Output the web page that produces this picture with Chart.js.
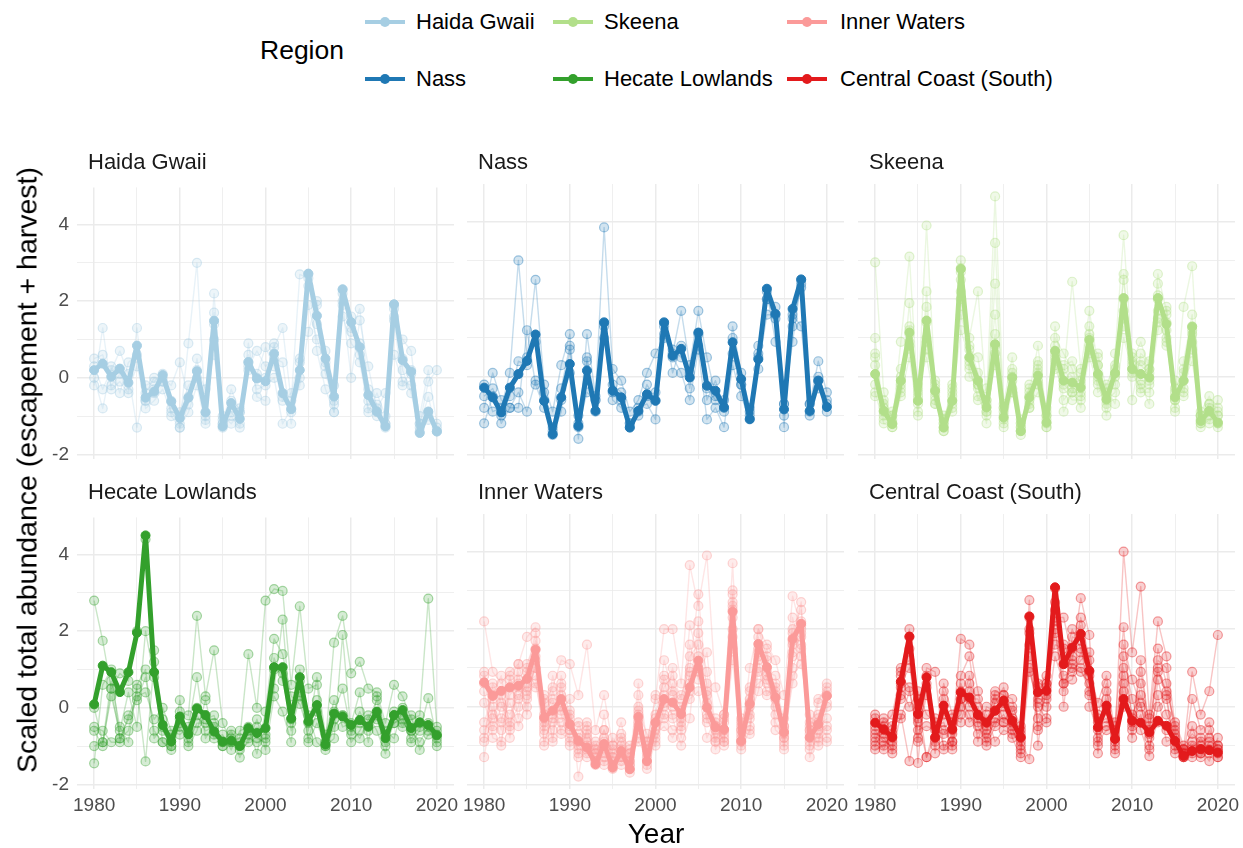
<!DOCTYPE html>
<html>
<head>
<meta charset="utf-8">
<script src="https://cdn.jsdelivr.net/npm/chart.js@4/dist/chart.umd.min.js"></script>
<style>
  body { margin:0; background:#fff; width:1243px; height:848px; position:relative; overflow:hidden;
         font-family:"Liberation Sans", Arial, sans-serif; }
  canvas { position:absolute; }
  .txt { position:absolute; white-space:nowrap; }
  .strip { font-size:22px; color:#1a1a1a; }
  .legtxt { font-size:22px; color:#000; }
  .key { position:absolute; width:40px; height:20px; }
  .key .ln { position:absolute; left:0; top:8.25px; width:40px; height:3.5px; }
  .key .dot { position:absolute; left:15px; top:5px; width:10px; height:10px; border-radius:50%; }
</style>
</head>
<body>
<script>
// Years on the x axis
const years = [1980,1981,1982,1983,1984,1985,1986,1987,1988,1989,
               1990,1991,1992,1993,1994,1995,1996,1997,1998,1999,
               2000,2001,2002,2003,2004,2005,2006,2007,2008,2009,
               2010,2011,2012,2013,2014,2015,2016,2017,2018,2019,2020];

const regionNames  = ["Haida Gwaii","Nass","Skeena","Hecate Lowlands","Inner Waters","Central Coast (South)"];
const regionColors = ["#a6cee3","#1f78b4","#b2df8a","#33a02c","#fb9a99","#e31a1c"];

const xTickValues = [1980,1985,1990,1995,2000,2005,2010,2015,2020];
const yTickValues = [-2,-1,0,1,2,3,4];

// Regional mean of scaled abundance
const haidaMean = [0.20,0.37,0.03,0.24,-0.13,0.84,-0.52,-0.36,0.07,-0.62,
  -1.05,-0.52,0.17,-0.90,1.49,-1.27,-0.66,-1.07,0.41,-0.02,
  -0.09,0.63,-0.40,-0.82,0.20,2.72,1.62,0.50,-0.49,2.31,
  1.45,0.80,-0.45,-0.88,-1.27,1.92,0.46,0.16,-1.44,-0.88,-1.40];
const nassMean = [-0.28,-0.53,-0.92,-0.28,0.07,0.41,1.09,-0.62,-1.48,-0.53,
  0.33,-1.27,0.16,-0.88,1.40,-0.36,-0.53,-1.31,-0.88,-0.45,
  -0.62,1.40,0.54,0.72,-0.02,1.14,-0.23,-0.36,-0.79,0.89,
  -0.06,-1.09,0.45,2.27,1.62,-0.84,1.75,2.51,-0.88,-0.10,-0.78];
const skeenaMean = [0.07,-0.88,-1.22,-0.10,1.14,-0.62,1.45,-0.36,-1.31,-0.62,
  2.78,0.50,-0.10,-0.79,0.84,-1.05,-0.02,-1.40,-0.53,0.03,
  -1.18,0.67,-0.10,-0.15,-0.28,0.95,0.07,-0.58,0.09,2.03,
  0.20,0.07,-0.02,2.03,1.36,-0.53,-0.10,1.29,-1.14,-0.88,-1.18];
const hecateMean = [0.09,1.10,0.93,0.41,0.93,1.96,4.50,0.93,-0.45,-0.88,
  -0.23,-0.69,-0.02,-0.19,-0.62,-0.88,-0.86,-1.00,-0.53,-0.66,
  -0.53,1.06,1.06,-0.28,0.80,-0.36,0.07,-0.96,-0.15,-0.23,
  -0.45,-0.32,-0.49,-0.10,-0.79,-0.19,-0.06,-0.53,-0.38,-0.45,-0.72];
const innerMean = [0.63,0.28,0.41,0.50,0.54,0.72,1.47,-0.28,-0.10,0.20,
  -0.45,-0.88,-1.05,-1.48,-0.96,-1.57,-1.14,-1.61,-0.26,-1.40,
  -0.41,0.20,0.11,-0.19,0.50,1.19,-0.02,-0.53,-0.58,2.45,
  -0.88,0.07,1.62,1.02,0.24,-0.66,1.75,2.14,-0.79,-0.45,0.28];
const centralMean = [-0.41,-0.58,-0.78,0.65,1.81,-0.19,0.76,-0.79,0.03,-0.58,
  0.37,0.24,-0.21,-0.41,-0.10,0.16,-0.36,-0.79,2.33,0.37,
  0.41,3.08,1.10,1.53,1.88,0.93,-0.53,0.03,-0.83,0.20,
  -0.36,-0.41,-0.66,-0.36,-0.49,-0.88,-1.27,-1.14,-1.09,-1.12,-1.18];

// Individual populations within each region
const haidaPops = [
  [-0.2,1.3,-0.3,-0.1,-0.4,1.3,-0.8,-0.6,-0.3,-0.9, -1.2,0.9,3.0,-1.0,2.2,-1.3,-1.0,-1.3,0.9,-0.5,
   -0.6,0.8,1.3,-0.6,2.7,2.6,0.7,-0.3,-0.9,2.2, 1.2,1.8,-0.3,-0.7,-1.2,1.6,1.0,0.7,-1.2,-0.5,-1.4],
  [0.3,-0.3,0.2,0.7,0.1,-1.3,-0.2,-0.1,0.1,-1.0, -1.3,-0.9,-0.2,-1.2,1.0,-1.2,-0.6,-0.8,0.2,0.1,
   0.8,0.3,-0.6,-0.4,0.5,2.7,1.4,0.1,-0.6,2.0, 1.6,0.4,-0.8,-1.0,-1.2,1.9,0.2,-0.4,-1.4,-1.1,-1.3],
  [0.0,-0.8,0.3,-0.4,0.4,0.6,-0.4,0.0,-0.1,-0.6, -1.3,-0.7,0.5,-0.9,1.4,-1.2,-0.3,-0.9,0.4,-0.3,
   -0.2,0.0,-1.2,-0.8,-0.2,1.2,2.0,0.7,-0.2,1.6, 0.9,0.6,-0.9,-0.4,-1.0,1.5,-0.2,0.2,-1.0,0.2,-1.2],
  [null,null,null,null,null,null,-0.6,-0.4,0.0,-0.2, 0.4,-0.5,0.2,-0.3,0.6,-1.0,-1.2,-0.9,0.3,0.7,
   0.3,0.5,0.4,-1.2,0.0,1.9,1.0,0.4,-0.9,1.9, 0.0,1.5,0.3,-0.8,-0.4,0.6,-0.1,-0.2,-1.2,-0.1,0.2],
  [0.5,0.6,-0.2,0.1,-0.3,0.3,-0.6,-0.3,-0.1,-0.8, -0.9,-0.2,0.0,-1.1,1.7,-1.1,-0.9,-1.2,0.6,0.0,
   0.0,0.9,-0.5,-0.9,0.4,2.4,1.9,0.3,-0.7,2.3, 1.3,0.9,-0.6,-0.9,-1.3,1.8,0.5,0.1,-1.3,-0.9,-1.4]
];
const nassPops = [
  [-0.2,-0.9,-0.8,0.1,3.0,0.5,2.5,-0.2,-0.9,0.3, 1.1,-1.6,1.1,-0.5,3.85,0.2,-0.1,-0.9,-0.6,0.1,
   0.6,1.0,0.6,1.7,0.3,1.7,0.5,-0.5,-0.9,1.3, 0.1,-0.8,0.6,2.0,1.5,-1.0,1.3,2.4,-0.7,0.4,-0.4],
  [-0.8,0.1,-0.6,-0.8,-0.8,1.2,-0.2,-0.8,-1.3,-0.3, 0.8,-1.2,0.5,-0.6,1.4,-0.2,-0.4,-1.2,-0.9,-0.2,
   -0.6,1.4,0.1,0.8,-0.3,1.1,-0.6,-0.1,-0.8,1.0, -0.2,-1.0,0.2,1.6,1.6,-1.3,1.6,1.3,-0.9,-0.1,-0.6],
  [-1.2,-0.5,-1.2,-0.8,-0.4,-0.9,-0.1,-0.6,-1.5,-0.9, 0.7,-1.3,-0.4,-0.6,1.0,-0.6,-0.8,-1.3,-0.8,-0.7,
   -1.1,1.1,0.5,0.1,-0.6,0.7,-1.1,-0.8,-1.3,0.3, -0.5,-1.1,0.8,2.2,0.9,-0.7,0.9,2.5,-1.0,0.0,-0.9],
  [-0.5,-0.3,-1.0,-0.5,0.4,0.3,0.9,-0.4,-1.4,-0.6, 0.1,-1.0,0.4,-0.9,1.3,-0.4,-0.6,-1.2,-1.0,-0.5,
   -0.4,1.3,0.7,0.5,0.1,0.8,-0.3,-0.6,-0.6,0.6, -0.2,-0.9,0.5,2.0,1.8,-0.7,1.5,2.3,-0.7,-0.3,-0.7]
];
const skeenaPops = [
  [2.95,-0.4,-1.2,0.9,3.1,-0.6,3.9,-0.2,-1.4,-0.3, 2.8,1.0,2.2,-0.6,4.65,-0.8,0.1,-1.2,-0.7,0.3,
   -1.2,1.3,0.0,2.45,0.2,1.7,0.3,-0.4,0.6,3.65, 0.4,0.9,0.2,2.65,1.7,-0.5,1.8,2.85,-1.0,-0.7,-1.2],
  [1.0,-1.1,-0.9,-0.4,1.9,-0.9,2.2,-0.7,-1.1,-0.9, 2.7,0.4,-0.3,-1.2,3.45,-1.3,-0.4,-1.5,-0.4,0.8,
   -1.0,0.8,-0.6,-0.3,-0.8,1.1,0.0,-1.0,0.1,2.65, 0.1,-0.3,-0.2,2.0,1.4,-0.9,0.2,1.3,-1.3,-1.1,-0.9],
  [0.5,-0.8,-1.0,0.2,1.1,-0.5,1.4,-0.5,-1.2,-0.2, 1.6,0.7,0.5,-0.9,2.4,-0.7,0.5,-1.1,-0.8,-0.4,
   -1.3,0.4,0.3,0.4,-0.2,0.6,0.5,-0.6,-0.4,2.0, -0.6,0.6,0.4,1.7,1.2,-0.1,-0.4,1.2,-0.9,-0.5,-1.0],
  [-0.4,-1.2,-1.3,-0.2,0.8,-0.2,0.7,-0.1,-1.4,-0.8, 2.0,0.3,-0.6,-0.3,1.6,-1.1,-0.3,-1.4,-0.3,-0.1,
   -1.1,0.2,-0.3,-0.6,-0.6,0.5,-0.2,-0.8,0.0,1.5, 0.3,-0.4,-0.4,1.2,1.8,-0.6,-0.3,0.7,-1.2,-0.8,-1.3],
  [-0.2,-0.7,-1.3,-0.5,0.5,-1.0,1.0,-0.6,-1.3,-0.5, 2.5,0.0,-0.2,-0.9,0.3,-0.9,-0.1,-1.3,-0.6,0.4,
   -0.9,0.6,-0.9,-0.4,-0.4,0.8,0.6,-0.3,-0.7,1.0, 0.2,-0.2,-0.7,2.1,0.8,-0.6,-0.1,0.4,-1.0,-1.2,-0.6],
  [0.3,-0.9,-1.1,-0.1,1.2,-0.7,0.9,-0.4,-1.0,-0.6, 1.2,0.5,-0.2,-0.6,0.8,-1.0,0.2,-1.4,-0.5,0.2,
   -1.0,0.5,0.2,0.0,-0.1,1.3,-0.4,-0.2,0.3,2.5, 0.5,0.3,0.1,1.5,0.9,-0.3,0.1,1.1,-1.1,-0.9,-1.0],
  [0.6,-1.0,-1.2,-0.3,0.9,-0.4,1.8,-0.3,-1.2,-0.7, 3.0,0.8,0.1,-0.7,1.1,-1.2,0.0,-1.3,-0.2,-0.2,
   -1.3,1.0,0.6,0.2,-0.5,1.0,0.3,-0.5,-0.2,1.7, 0.0,0.4,0.2,2.4,1.0,-0.8,0.4,1.6,-1.2,-1.0,-1.2],
  [-0.5,-0.6,-1.0,0.0,1.3,-0.3,0.5,-0.7,-1.1,-0.4, 2.2,0.2,-0.5,-1.0,0.6,-0.8,-0.4,-1.2,-0.8,0.1,
   -0.8,0.3,-0.2,-0.4,0.1,0.7,-0.1,-0.7,0.2,1.3, 0.6,-0.1,-0.1,1.4,1.6,-0.4,-0.5,0.9,-1.0,-0.7,-0.8]
];
const hecatePops = [
  [2.8,1.75,0.5,0.9,0.7,2.0,4.4,1.5,-0.3,-0.8, -0.1,-0.2,2.4,0.3,1.5,-0.4,-0.9,-0.8,1.4,0.0,
   2.8,3.1,3.05,0.6,2.65,0.5,0.6,-0.9,1.7,2.4, 0.9,1.2,0.5,0.4,-0.4,0.6,0.3,-0.3,-0.2,2.85,-0.5],
  [-1.45,0.6,1.0,-0.8,-0.6,0.5,-1.4,1.2,-0.6,-1.0, -0.4,-0.8,0.0,-0.3,-0.2,-1.0,-0.7,-1.3,-0.8,-0.9,
   -0.8,0.5,2.3,-0.4,0.7,-0.9,-0.4,-1.0,-0.8,1.9, -0.7,-0.1,-0.6,-0.3,-1.0,-0.4,-0.2,-0.9,-0.6,0.25,-0.8],
  [-1.0,-0.9,0.3,-0.6,0.4,-0.5,2.0,0.8,-0.9,-1.1, 0.2,-1.0,-0.6,0.2,-0.8,-0.7,-1.1,-0.6,-0.5,-1.2,
   -0.1,1.8,1.4,0.3,0.1,-0.6,0.8,-0.7,0.2,-0.5, -0.4,0.4,-0.9,0.3,-0.6,-0.8,0.0,-0.6,-0.9,-0.5,-1.0],
  [-0.5,-0.6,-0.9,-0.9,-0.2,0.3,0.4,-0.3,0.0,-0.6, -0.7,-0.5,0.8,-0.8,-0.4,-0.9,-0.6,-1.1,-0.9,-0.3,
   -1.1,0.3,-0.1,-0.9,1.0,-0.2,-0.9,-1.1,-0.5,-0.2, -0.9,-0.6,-0.2,-0.6,-1.2,-0.2,-0.5,-0.2,-1.1,-0.7,-0.6],
  [0.0,-0.9,0.7,-0.5,-0.9,0.6,1.0,-0.8,-0.5,-0.7, -0.3,-0.6,-0.2,-0.6,-0.5,-0.9,-0.8,-0.9,-0.7,-0.5,
   -0.7,1.0,0.9,-0.6,0.3,-0.4,0.2,-1.0,-0.3,-0.2, -0.5,-0.8,-0.3,0.2,-0.9,-0.1,-0.4,-0.6,-0.4,-0.6,-0.9],
  [-0.6,-1.0,0.5,-0.8,-0.3,0.2,0.8,-0.6,-0.9,-1.0, -0.5,-0.9,-0.4,-0.4,-0.7,-1.0,-0.9,-1.0,-0.6,-0.8,
   -0.9,1.3,0.7,-0.3,0.4,-0.8,-0.1,-0.9,-0.1,0.5, -0.6,-0.4,-0.5,-0.2,-0.7,-0.4,-0.3,-0.8,-0.5,-0.4,-0.7]
];
const innerPops = [
  [2.2,0.9,0.6,0.9,1.1,1.8,2.05,0.1,0.5,1.2, 1.1,0.3,1.6,-0.6,0.3,-1.0,-0.4,-1.4,0.6,-0.9,
   0.2,2.0,2.0,0.6,3.65,2.6,3.9,0.5,-0.2,3.7, -0.8,1.0,2.0,1.6,1.2,0.3,2.85,2.0,-0.6,0.2,0.5],
  [-1.3,0.0,-0.6,0.3,0.6,0.4,1.0,-0.7,0.8,-0.1, 0.2,-1.8,-0.5,-1.4,-0.2,-1.5,-0.9,-1.6,0.3,-1.5,
   -0.8,1.2,0.4,-0.4,2.1,1.3,0.6,-0.9,-0.6,2.9, -1.0,0.5,1.3,0.9,0.8,-0.9,1.4,2.2,-1.3,-0.6,0.1],
  [0.8,-0.5,0.3,-0.4,0.0,1.1,1.7,-0.4,-0.6,0.6, -0.6,-1.0,-1.3,-1.0,-0.6,-1.2,-1.3,-1.5,-0.6,-1.2,
   -0.5,0.5,0.8,0.2,1.3,1.6,0.1,-0.4,-0.9,2.7, -0.6,-0.3,2.0,1.3,0.0,-0.5,1.9,2.1,-0.9,-0.9,0.3],
  [0.4,-0.8,-0.9,0.5,0.2,0.6,0.8,-0.9,-0.3,0.0, -0.9,-0.5,-0.8,-1.5,-1.2,-1.6,-1.0,-1.2,-0.4,-1.6,
   -0.9,-0.2,-0.6,-0.6,0.6,0.9,-0.3,-0.8,-0.6,2.3, -1.1,-0.6,0.9,0.4,0.3,-1.1,1.0,1.6,-0.8,-0.4,-0.6],
  [-0.6,-0.3,0.4,-0.8,0.9,-0.2,1.3,0.2,-0.9,0.8, -0.3,-1.2,-1.0,-1.3,-1.4,-1.4,-1.3,-1.7,-0.2,-1.1,
   -0.2,0.7,-0.3,-1.0,-0.3,1.9,0.9,-0.7,-0.3,2.5, -0.4,0.2,1.5,1.0,-0.6,-0.8,2.0,2.5,-0.5,-1.0,0.0],
  [-0.9,0.5,-0.3,0.1,-0.5,0.2,1.5,-0.6,0.1,-0.7, -0.8,-0.7,-1.2,-1.1,-1.0,-1.3,-1.5,-1.3,-0.9,-1.3,
   -0.7,-0.5,-0.8,-0.3,0.2,0.4,-0.8,-0.3,-1.0,1.8, -0.9,0.0,1.0,0.6,0.4,-0.7,1.6,1.8,-1.1,-0.2,0.4],
  [0.6,0.2,-1.0,0.7,0.5,0.9,1.9,-1.0,-0.2,0.3, -0.5,-1.1,-1.1,-0.9,-1.5,-0.8,-1.1,-1.4,0.0,-1.4,
   -0.4,0.3,0.0,0.3,1.0,2.9,0.4,-1.1,-0.7,3.0, -0.6,-0.5,1.8,0.7,0.5,-0.3,2.3,1.3,-0.7,-0.7,-0.9],
  [0.1,-0.6,0.0,-0.2,0.3,0.5,1.0,-0.3,-0.4,-0.4, -0.2,-0.9,-0.7,-1.2,-0.8,-1.1,-0.8,-1.0,-0.5,-0.9,
   -0.3,0.1,-0.2,-0.1,0.8,1.0,-0.4,-0.5,-0.4,2.0, -0.7,0.1,1.4,1.2,0.2,-0.5,1.3,1.9,-0.4,-0.5,-0.3],
  [-0.8,0.6,0.1,-0.5,1.1,0.3,0.6,-0.5,0.4,-0.2, -1.0,-0.8,-0.4,-1.1,-0.9,-1.5,-1.2,-1.1,-0.8,-1.0,
   0.3,-0.3,0.6,-0.5,1.6,0.7,1.4,-0.6,-0.8,1.5, -0.3,-0.7,1.2,0.3,0.6,-1.0,0.8,1.1,-0.2,-0.8,-0.5],
  [0.9,-0.2,-0.4,0.8,-0.3,1.0,0.5,0.3,-0.8,0.5, -0.6,-0.4,-0.9,-1.4,-0.6,-1.3,-0.7,-1.5,-0.3,-1.1,
   -0.6,0.8,0.3,0.0,0.4,2.2,-0.2,-0.9,-0.2,2.6, -0.5,0.4,0.6,0.8,-0.2,-0.6,1.7,2.7,-1.0,0.1,0.6],
  [-0.4,0.3,0.8,-0.6,0.7,0.0,1.2,-0.2,0.2,-0.6, -0.1,-1.3,-0.6,-1.2,-1.3,-1.0,-1.4,-1.2,-0.1,-0.7,
   -1.0,0.0,1.0,-0.8,0.9,1.0,0.3,-0.5,-0.9,1.2, -0.9,-0.2,0.4,1.5,-0.4,-0.8,0.6,1.5,-0.6,-0.3,-0.8]
];
const centralPops = [
  [-0.3,-0.5,-0.2,0.9,2.0,-1.45,1.0,0.9,-1.1,-0.7, 1.75,1.6,0.4,-0.6,0.1,0.5,-0.3,-0.6,2.75,-1.0,
   0.6,2.3,2.3,1.3,2.8,1.85,-1.2,0.4,-0.8,4.0, 1.4,3.1,-0.2,2.2,1.3,-0.5,-1.1,0.9,-0.2,0.4,1.85],
  [-0.6,-0.9,-1.0,0.3,1.5,-0.4,0.5,-1.0,0.2,-0.9, 0.8,1.3,-0.3,-0.8,-0.4,-0.2,-0.6,-1.0,2.3,0.2,
   0.2,3.05,1.1,2.0,1.5,0.8,-0.8,0.0,-0.4,2.05, -0.5,1.2,-0.6,1.2,1.0,-0.9,-1.2,-0.9,-1.1,-1.4,-0.8],
  [-1.0,-0.6,-1.2,-0.2,-1.4,-0.3,-1.3,-0.5,-0.4,-1.1, 0.2,-0.2,-0.7,-0.2,-0.9,-0.6,-0.7,-0.9,-1.35,0.5,
   0.5,1.9,0.4,1.5,2.1,0.3,-0.4,-0.3,-1.0,0.8, -0.6,-0.2,-1.0,-0.4,-0.6,-1.0,-1.3,-1.2,-1.3,-0.9,-1.0],
  [-0.8,-1.1,-0.6,0.6,1.0,0.2,-1.3,-0.8,-0.2,-0.3, -0.4,0.4,-0.9,0.0,-0.1,0.3,-0.1,-1.1,1.3,-0.5,
   -0.4,2.5,0.8,0.9,1.2,1.4,-0.2,0.6,-1.2,1.3, 0.2,-0.6,-1.27,0.7,-0.2,-0.7,-1.1,-1.3,-0.8,-1.2,-1.3],
  [-0.5,-0.4,-0.9,0.2,1.8,-0.1,0.8,-1.2,0.4,-0.6, 0.2,-0.4,-0.2,-0.7,0.2,0.0,-0.4,-0.7,1.9,0.6,
   0.8,1.6,1.5,1.0,0.9,0.6,-0.9,-0.6,-0.5,1.0, -0.2,0.3,-0.3,1.5,0.6,-0.6,-1.3,-0.5,-1.2,-0.6,-1.1],
  [-0.7,-0.8,-1.1,0.8,0.5,-0.9,0.6,-0.3,-1.0,-0.9, 0.6,0.0,0.0,-1.0,-0.5,0.1,-0.8,-1.3,0.9,0.1,
   0.0,2.7,0.0,1.8,1.7,0.0,-0.6,-0.5,-0.6,0.4, -0.8,0.6,-0.8,0.3,-0.9,-0.8,-1.2,-1.0,-1.0,-1.1,-1.2],
  [-0.9,-0.3,-0.5,-0.3,0.4,-0.6,-0.5,-0.6,-0.7,-0.4, -0.2,0.6,-0.5,-0.9,-0.3,-0.4,-0.5,-1.2,1.6,-0.3,
   0.3,2.0,0.6,1.1,1.0,0.4,-1.0,0.2,-0.9,0.6, -0.4,0.9,-0.5,0.9,0.4,-0.4,-1.0,-0.7,-0.9,-0.8,-1.0],
  [-0.2,-0.7,-0.8,1.0,1.2,-0.8,0.3,-0.9,0.6,-0.2, 0.4,0.2,0.2,-0.4,0.3,-0.4,0.0,-0.5,2.0,-0.6,
   0.6,2.2,1.6,1.2,2.3,1.2,-0.3,-0.1,-1.1,1.6, 0.7,0.0,-0.7,1.0,0.3,-1.1,-1.3,0.2,-0.6,-0.4,-1.3],
  [-1.1,-1.0,-0.7,0.5,0.0,0.4,-0.2,-0.4,-0.6,-1.0, 0.0,0.8,-0.4,-0.5,0.4,0.3,0.2,-0.8,1.0,0.0,
   -0.3,1.3,0.6,0.7,1.4,0.9,0.1,0.8,-0.7,0.0, -0.3,0.1,-1.1,0.0,0.2,-1.2,-1.1,-1.1,-1.2,-1.0,-1.1]
];

const regionMeans = [haidaMean, nassMean, skeenaMean, hecateMean, innerMean, centralMean];
const regionPops  = [haidaPops, nassPops, skeenaPops, hecatePops, innerPops, centralPops];

// ---------- layout ----------
const COL_LEFT = [77, 467, 858];
const ROW_TOP  = [184, 514];
const PLOT_W = 377, PLOT_H = 275;
const PAD_L = 40, PAD_R = 20, PAD_T = 16, PAD_B = 36;
const Y_AXIS_W = 37, X_AXIS_H = 36;
const FONT = "'Liberation Sans', Arial, sans-serif";

Chart.defaults.font.family = FONT;

function rgba(hex, a) {
  const n = parseInt(hex.slice(1), 16);
  return `rgba(${(n >> 16) & 255},${(n >> 8) & 255},${n & 255},${a})`;
}

function addText(txt, cls, left, top, extra) {
  const d = document.createElement('div');
  d.className = 'txt ' + cls;
  d.textContent = txt;
  d.style.left = left + 'px';
  d.style.top = top + 'px';
  if (extra) Object.assign(d.style, extra);
  document.body.appendChild(d);
  return d;
}

// ---------- facet panels ----------
regionNames.forEach((name, i) => {
  const col = i % 3, row = Math.floor(i / 3);
  const showY = col === 0, showX = row === 1;
  const color = regionColors[i];
  const plotL = COL_LEFT[col], plotT = ROW_TOP[row];

  const canvas = document.createElement('canvas');
  const cw = PAD_L + PLOT_W + PAD_R, ch = PAD_T + PLOT_H + PAD_B;
  canvas.width = cw; canvas.height = ch;
  canvas.style.width = cw + 'px'; canvas.style.height = ch + 'px';
  canvas.style.left = (plotL - PAD_L) + 'px';
  canvas.style.top = (plotT - PAD_T) + 'px';
  document.body.appendChild(canvas);

  const datasets = regionPops[i].map(arr => ({
    data: years.map((yr, k) => ({ x: yr, y: arr[k] })),
    borderColor: rgba(color, 0.26),
    borderWidth: 1.4,
    borderJoinStyle: 'round',
    pointRadius: 4.5,
    pointBackgroundColor: rgba(color, 0.2),
    pointBorderColor: rgba(color, 0.42),
    pointBorderWidth: 1.2,
    order: 2
  }));
  datasets.push({
    data: years.map((yr, k) => ({ x: yr, y: regionMeans[i][k] })),
    borderColor: color,
    borderWidth: 5,
    borderJoinStyle: 'round',
    borderCapStyle: 'round',
    pointRadius: 4.5,
    pointBackgroundColor: color,
    pointBorderColor: color,
    pointBorderWidth: 1,
    order: 1
  });

  new Chart(canvas, {
    type: 'line',
    data: { datasets },
    options: {
      responsive: false,
      animation: false,
      devicePixelRatio: 1,
      layout: {
        autoPadding: false,
        padding: { left: showY ? PAD_L - Y_AXIS_W : PAD_L, right: PAD_R, top: PAD_T, bottom: showX ? 0 : PAD_B }
      },
      plugins: { legend: { display: false }, tooltip: { enabled: false } },
      elements: { line: { tension: 0 } },
      scales: {
        x: {
          type: 'linear', min: 1978, max: 2022,
          afterBuildTicks: s => { s.ticks = xTickValues.map(v => ({ value: v })); },
          afterFit: s => { s.height = showX ? X_AXIS_H : 0; },
          ticks: {
            display: showX, autoSkip: false, maxRotation: 0, padding: 5,
            color: '#4d4d4d', font: { size: 19, family: FONT },
            callback: v => (v % 10 === 0 ? String(v) : '')
          },
          grid: {
            drawTicks: false,
            color: '#ebebeb',
            lineWidth: ctx => (ctx.tick && ctx.tick.value % 10 === 0 ? 1.5 : 0.8)
          },
          border: { display: false }
        },
        y: {
          type: 'linear', min: -2.12, max: 4.97,
          afterBuildTicks: s => { s.ticks = yTickValues.map(v => ({ value: v })); },
          afterFit: s => { s.width = showY ? Y_AXIS_W : 0; },
          ticks: {
            display: showY, autoSkip: false, padding: 8,
            color: '#4d4d4d', font: { size: 19, family: FONT },
            callback: v => (v % 2 === 0 ? String(v) : '')
          },
          grid: {
            drawTicks: false,
            color: '#ebebeb',
            lineWidth: ctx => (ctx.tick && ctx.tick.value % 2 === 0 ? 1.5 : 0.8)
          },
          border: { display: false }
        }
      }
    }
  });

  // facet strip label
  addText(name, 'strip', plotL + 11, plotT - 35);
});

// ---------- axis titles ----------
addText('Year', '', 0, 818, { width: '1243px', left: '0px', textAlign: 'center', fontSize: '28px', color: '#000',
  paddingLeft: '69px', boxSizing: 'border-box' });
addText('Scaled total abundance (escapement + harvest)', '', 27, 470,
  { fontSize: '28.5px', color: '#000', transform: 'translate(-50%,-50%) rotate(-90deg)' });

// ---------- legend ----------
addText('Region', '', 260, 35, { fontSize: '26.5px', color: '#000' });
const legKeyX = [365, 553, 787];
const legTextX = [416, 604, 840];
const legRowY = [22, 79];
regionNames.forEach((name, i) => {
  const c = Math.floor(i / 2), r = i % 2;
  const key = document.createElement('div');
  key.className = 'key';
  key.style.left = legKeyX[c] + 'px';
  key.style.top = (legRowY[r] - 10) + 'px';
  key.innerHTML = `<span class="ln" style="background:${regionColors[i]}"></span><span class="dot" style="background:${regionColors[i]}"></span>`;
  document.body.appendChild(key);
  addText(name, 'legtxt', legTextX[c], legRowY[r] - 13);
});
</script>
</body>
</html>
